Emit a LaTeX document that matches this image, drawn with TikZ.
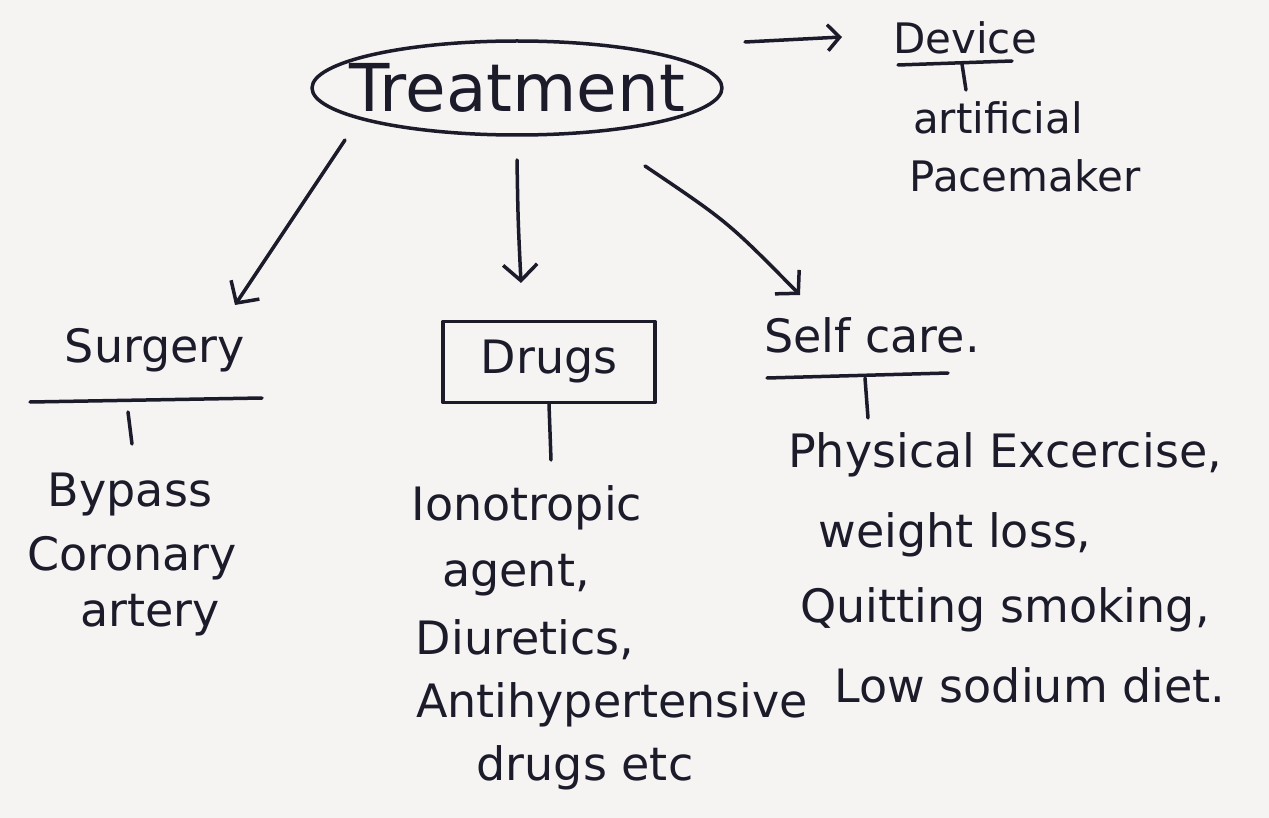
\documentclass[tikz,border=0pt]{standalone}
\usepackage{fontspec}
\setmainfont{DejaVu Sans}
\usetikzlibrary{shapes.geometric,arrows.meta}
\definecolor{ink}{HTML}{1B1B2A}
\definecolor{paper}{HTML}{F6F3F3}
\begin{document}
\begin{tikzpicture}[x=1pt,y=-1pt,
  txt/.style={text=ink, font=\fontsize{46}{52}\selectfont, inner sep=0pt},
  small/.style={txt, font=\fontsize{42}{48}\selectfont},
  pen/.style={draw=ink, line width=3.5pt, line cap=round, line join=round},
  arr/.style={pen, -{Straight Barb[length=16pt,width=34pt]}},
  sarr/.style={pen, -{Straight Barb[length=12pt,width=26pt]}}]

% paper
\fill[paper] (0,0) rectangle (1269,818);
\useasboundingbox (0,0) rectangle (1269,818);

% root
\node[ellipse, pen, minimum width=410pt, minimum height=94pt, inner sep=0pt, text=ink] (T) at (517,88)
  {\makebox[0pt]{\fontsize{66}{74}\selectfont Treatment}};

% device branch
\node[small] (dev) at (965,38) {Device};
\node[small] (art) at (998,118) {artificial};
\node[small] (pace) at (1025,176) {Pacemaker};
\coordinate (ta) at (745,42);
\coordinate (tb) at (842,37);
\draw[sarr] (ta) -- (tb);
\draw[pen] (898,65) -- (1012,61);
\coordinate (d1) at (962,64);
\coordinate (d2) at (966,90);
\draw[pen] (d1) -- (d2);

% three main branches
\coordinate (s1) at (345,140);
\coordinate (s2) at (235,305);
\coordinate (m1) at (517,160);
\coordinate (m2) at (521,283);
\coordinate (c1) at (645,166);
\coordinate (c2) at (800,295);
\draw[arr] (s1) -- (s2);
\draw[arr] (m1) .. controls (518,220) .. (m2);
\draw[arr] (c1) .. controls (728,222) .. (c2);

% surgery
\node[txt] (sur) at (155,350) {Surgery};
\draw[pen] (30,402) -- (262,398);
\coordinate (sa) at (128,412);
\coordinate (sb) at (132,444);
\draw[pen] (sa) -- (sb);
\node[txt] (byp) at (130,495) {Bypass};
\node[txt] (cor) at (132,558) {Coronary};
\node[txt] (arty) at (150,615) {artery};

% drugs
\node[pen, rectangle, minimum width=212pt, minimum height=81pt, inner sep=0pt, text=ink,
      font=\fontsize{46}{52}\selectfont] (D) at (549,362) {\makebox[0pt]{Drugs}};
\coordinate (da) at (551,460);
\draw[pen] (D.south) -- (da);
\node[txt] (ino) at (527,508) {Ionotropic};
\node[txt] (agt) at (516,575) {agent,};
\node[txt] (diu) at (525,640) {Diuretics,};
\node[txt] (anti) at (612,705) {Antihypertensive};
\node[txt] (etc) at (585,768) {drugs etc};

% self care
\node[txt] (self) at (872,335) {Self care.};
\draw[pen] (767,378) -- (948,373);
\coordinate (ca) at (865,378);
\coordinate (cb) at (868,418);
\draw[pen] (ca) -- (cb);
\node[txt] (phy) at (1005,455) {Physical Excercise,};
\node[txt] (wl) at (955,535) {weight loss,};
\node[txt] (qs) at (1005,610) {Quitting smoking,};
\node[txt] (low) at (1030,685) {Low sodium diet.};
\end{tikzpicture}
\end{document}
